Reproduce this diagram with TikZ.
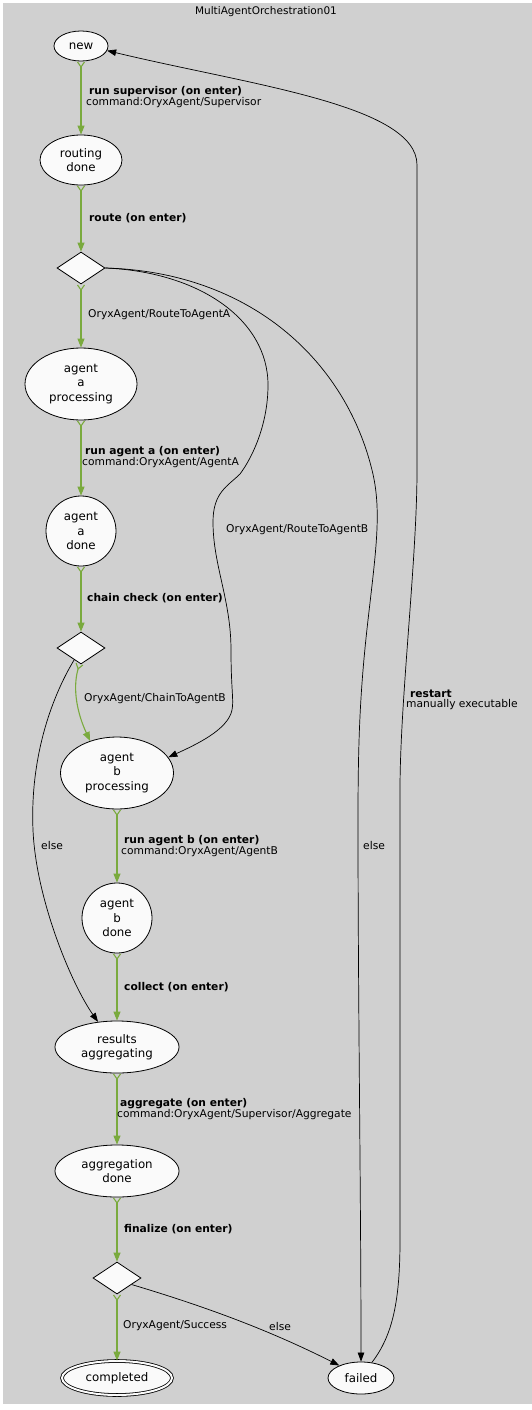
\documentclass[tikz,border=0pt]{standalone}
\usepackage{fontspec}
\setmainfont{DejaVu Sans}
\usetikzlibrary{positioning,shapes.geometric,arrows.meta}
\definecolor{bggray}{RGB}{208,208,208}
\definecolor{nodefill}{RGB}{250,250,250}
\definecolor{flowgreen}{RGB}{122,170,62}

\begin{document}
\begin{tikzpicture}[-{Triangle[length=9pt,width=6.5pt]} ,x=1pt ,y=-1pt ,on grid ,
state/.style ={ ellipse ,fill =nodefill ,draw ,line width =0.8pt ,inner sep =0pt ,
 align =center ,font =\fontsize{11.8}{14.5}\selectfont},
check/.style ={ diamond ,fill =nodefill ,draw ,line width =0.8pt ,inner sep =0pt ,
 minimum width =48pt ,minimum height =32pt},
flow/.style ={ draw =flowgreen ,line width =1.1pt ,
 {Straight Barb[reversed,length=5pt,width=7pt]}-{Triangle[length=9pt,width=7pt]}},
jump/.style ={ draw =black ,line width =0.7pt},
lbl/.style ={ anchor =west ,inner sep =0pt ,align =left ,
 font =\fontsize{10.7}{10.5}\selectfont}]
\useasboundingbox (0,0) rectangle (532,1410);
\fill[bggray] (3,3) rectangle (532,1404);
\node (title) at (266,12) {\fontsize{10.5}{12}\selectfont MultiAgentOrchestration01};

% states
\node[state ,minimum width =54pt ,minimum height =30pt] (N) at (81,46) {new};
\node[state ,minimum width =82pt ,minimum height =50pt] (R) [below =114pt of N] {routing\\done};
\node[check] (D1) [below =108pt of R] {};
\node[state ,minimum width =112pt ,minimum height =72pt] (AP) [below =116pt of D1] {agent\\a\\processing};
\node[state ,circle ,minimum size =70pt] (AD) [below =147pt of AP] {agent\\a\\done};
\node[check] (D2) [below =117pt of AD] {};
\node[state ,minimum width =113pt ,minimum height =72pt] (BP) [below right =125pt and 36pt of D2] {agent\\b\\processing};
\node[state ,circle ,minimum size =70pt] (BD) [below =145pt of BP] {agent\\b\\done};
\node[state ,minimum width =124pt ,minimum height =52pt] (RA) [below =129pt of BD] {results\\aggregating};
\node[state ,minimum width =124pt ,minimum height =52pt] (AG) [below =124pt of RA] {aggregation\\done};
\node[check] (D3) [below =107pt of AG] {};
\node[state ,double ,double distance =2pt ,double =nodefill ,minimum width =110pt ,minimum height =34pt] (C) [below =100pt of D3] {completed};
\node[state ,minimum width =66pt ,minimum height =32pt] (F) [right =244pt of C] {failed};

% green transitions
\draw[flow] (N) -- (R);
\draw[flow] (R) -- (D1);
\draw[flow] (D1) -- (AP);
\draw[flow] (AP) -- (AD);
\draw[flow] (AD) -- (D2);
\draw[flow] (D2.265) .. controls (72,690) and (78,715) .. (BP.130);
\draw[flow] (BP) -- (BD);
\draw[flow] (BD) -- (RA);
\draw[flow] (RA) -- (AG);
\draw[flow] (AG) -- (D3);
\draw[flow] (D3) -- (C);

% black transitions
\draw[jump] (D1.east) .. controls (200,272) and (268,320) .. (268,385)
 .. controls (268,425) and (252,458) .. (240,474)
 .. controls (228,486) and (213,492) .. (213,522)
 .. controls (213,565) and (231,600) .. (231,650)
 .. controls (231,690) and (234,700) .. (232,710)
 .. controls (228,730) and (195,745) .. (BP.17);
\draw[jump] (D1.east) .. controls (250,272) and (345,360) .. (372,470)
 .. controls (382,510) and (376,550) .. (368,620)
 .. controls (360,690) and (358,740) .. (358,820)
 .. controls (358,1000) and (361,1200) .. (F.north);
\draw[jump] (F.55) .. controls (393,1335) and (400,1300) .. (400,1240) -- (400,790)
 .. controls (400,700) and (417,560) .. (417,470) -- (417,165)
 .. controls (417,105) and (250,85) .. (N.-10);
\draw[jump] (D2.240) .. controls (50,700) and (30,760) .. (33,830)
 .. controls (36,900) and (72,985) .. (RA.127);
\draw[jump] (D3.-24) .. controls (200,1305) and (265,1328) .. (F.150);

% labels
\node[lbl] (l1) at (86,97) {\hspace*{3pt}\textbf{run supervisor (on enter)}\\command:OryxAgent/Supervisor};
\node[lbl] (l2) at (89,218) {\textbf{route (on enter)}};
\node[lbl] (l3) at (88,315) {OryxAgent/RouteToAgentA};
\node[lbl] (l4) at (82,457) {\hspace*{3pt}\textbf{run agent a (on enter)}\\command:OryxAgent/AgentA};
\node[lbl] (l5) at (226,530) {OryxAgent/RouteToAgentB};
\node[lbl] (l6) at (87,598) {\textbf{chain check (on enter)}};
\node[lbl] (l7) at (84,699) {OryxAgent/ChainToAgentB};
\node[lbl] (l8) at (406,700) {\hspace*{4pt}\textbf{restart}\\manually executable};
\node[lbl] (l9) at (121,846) {\hspace*{3pt}\textbf{run agent b (on enter)}\\command:OryxAgent/AgentB};
\node[lbl] (l10) at (41,846) {else};
\node[lbl] (l11) at (363,846) {else};
\node[lbl] (l12) at (124,987) {\textbf{collect (on enter)}};
\node[lbl] (l13) at (117,1109) {\hspace*{3pt}\textbf{aggregate (on enter)}\\command:OryxAgent/Supervisor/Aggregate};
\node[lbl] (l14) at (124,1229) {\textbf{finalize (on enter)}};
\node[lbl] (l15) at (123,1326) {OryxAgent/Success};
\node[lbl] (l16) at (269,1326) {else};
\end{tikzpicture}
\end{document}
